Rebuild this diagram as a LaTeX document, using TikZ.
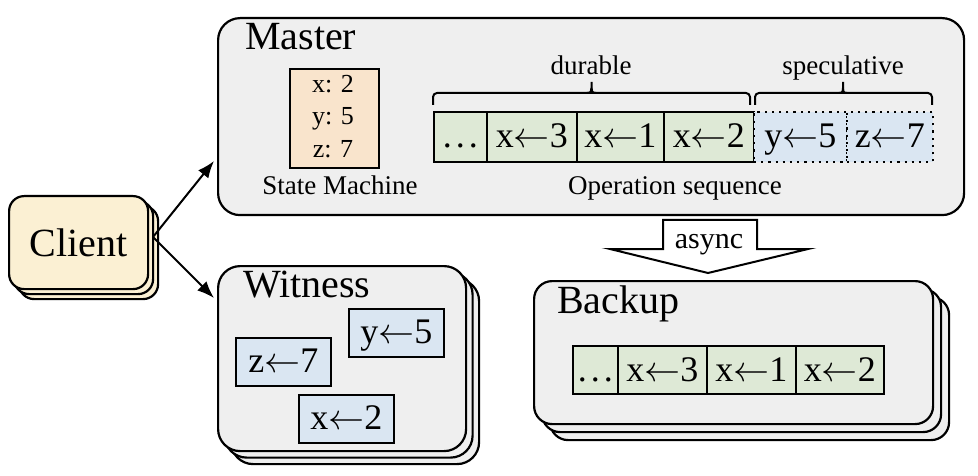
\RequirePackage{fix-cm}
\documentclass[tikz,border=0pt]{standalone}
\usepackage{fontspec}
\setmainfont{Liberation Serif}
\usetikzlibrary{arrows.meta}
\definecolor{boxgray}{HTML}{EFEFEF}
\definecolor{clientfill}{HTML}{FBF0D3}
\definecolor{smfill}{HTML}{F9E4CC}
\definecolor{greenfill}{HTML}{DEE9D6}
\definecolor{bluefill}{HTML}{DAE6F2}
\newcommand{\la}{$\leftarrow$}
\newcommand{\mydots}{.\kern4pt.\kern4pt.}
\begin{document}
\begin{tikzpicture}[x=1pt,y=-1pt,
  bigbox/.style={draw, line width=2.2pt, fill=boxgray, anchor=north west, inner sep=0pt},
  title/.style={anchor=base west, inner sep=0pt, font=\fontsize{40}{40}\selectfont},
  lbl/.style={anchor=base, inner sep=0pt, font=\fontsize{27}{27}\selectfont},
  cell/.style={draw, line width=1.8pt, inner sep=0pt, anchor=north west, text height=26pt, text depth=4pt, font=\fontsize{36}{36}\selectfont},
  gcell/.style={cell, fill=greenfill, minimum height=50pt},
  scell/.style={cell, fill=bluefill, minimum height=50pt, dash pattern=on 2.2pt off 5pt},
  wcell/.style={cell, fill=bluefill, minimum width=95pt, minimum height=48pt, text height=25pt},
  bcell/.style={cell, fill=greenfill, minimum height=48pt, text depth=2pt},
  brc/.style={line width=2pt, rounded corners=4pt},
  conn/.style={line width=2pt, -{Latex[length=17pt,width=13pt]}}
]
\useasboundingbox (0,0) rectangle (978,476);

% Client stack
\node[bigbox, fill=clientfill, rounded corners=15pt, minimum width=139pt, minimum height=93pt] (client3) at (18,205) {};
\node[bigbox, fill=clientfill, rounded corners=15pt, minimum width=139pt, minimum height=93pt] (client2) at (13,200) {};
\node[bigbox, fill=clientfill, rounded corners=15pt, minimum width=139pt, minimum height=93pt, font=\fontsize{40}{40}\selectfont] (client) at (8,195) {Client};

% Master
\node[bigbox, rounded corners=22pt, minimum width=746pt, minimum height=197pt] (master) at (217,17) {};
\node[title] (mtitle) at (245,50) {Master};

% State machine
\node[draw, line width=1.8pt, fill=smfill, anchor=north west, minimum width=89pt, minimum height=99pt] (sm) at (289,68) {};
\node[lbl, font=\fontsize{26}{26}\selectfont] (smx) at (333,93) {x: 2};
\node[lbl, font=\fontsize{26}{26}\selectfont] (smy) at (333,125) {y: 5};
\node[lbl, font=\fontsize{26}{26}\selectfont] (smz) at (333,158) {z: 7};
\node[lbl] (smlbl) at (340,195) {State Machine};

% Operation sequence
\node[gcell, minimum width=53pt] (o1) at (433,111) {\mydots};
\node[gcell, minimum width=90pt] (o2) at (486,111) {x\la3};
\node[gcell, minimum width=87pt] (o3) at (576,111) {x\la1};
\node[gcell, minimum width=90pt] (o4) at (663,111) {x\la2};
\node[scell, minimum width=93pt] (o5) at (753,111) {y\la5};
\node[scell, minimum width=86pt] (o6) at (846,111) {z\la7};
\node[lbl] (oplbl) at (675,195) {Operation sequence};

% braces
\coordinate (dl) at (433,105); \coordinate (dr) at (750,105); \coordinate (dt) at (591.5,82);
\coordinate (sl) at (755,105); \coordinate (sr) at (932,105); \coordinate (st) at (843,82);
\draw[brc] (dl) -- (433,93) -- (750,93) -- (dr);
\draw[line width=2pt] (587,93) .. controls (591,93) and (591.5,91) .. (591.5,88) -- (dt);
\draw[line width=2pt] (596,93) .. controls (592,93) and (591.5,91) .. (591.5,88);
\draw[brc] (sl) -- (755,93) -- (932,93) -- (sr);
\draw[line width=2pt] (839,93) .. controls (843,93) and (843,91) .. (843,88) -- (st);
\draw[line width=2pt] (847,93) .. controls (843,93) and (843,91) .. (843,88);
\node[lbl] (dur) at (591,75) {durable};
\node[lbl] (spec) at (843,75) {speculative};

% Witness stack
\node[bigbox, rounded corners=22pt, minimum width=248pt, minimum height=185pt] (witness3) at (230,278) {};
\node[bigbox, rounded corners=22pt, minimum width=248pt, minimum height=185pt] (witness2) at (223.5,271.5) {};
\node[bigbox, rounded corners=22pt, minimum width=248pt, minimum height=185pt] (witness) at (217,265) {};
\node[title] (wtitle) at (243,297) {Witness};
\node[wcell] (wy) at (348,308) {y\la5};
\node[wcell] (wz) at (235,337) {z\la7};
\node[wcell] (wx) at (298,394) {x\la2};

% Backup stack
\node[bigbox, rounded corners=18pt, minimum width=399pt, minimum height=143pt] (backup3) at (549,296) {};
\node[bigbox, rounded corners=18pt, minimum width=399pt, minimum height=143pt] (backup2) at (541,288) {};
\node[bigbox, rounded corners=18pt, minimum width=399pt, minimum height=143pt] (backup) at (533,280) {};
\node[title] (btitle) at (557,313) {Backup};
\node[bcell, minimum width=45pt] (b1) at (572,345) {\mydots};
\node[bcell, minimum width=89pt] (b2) at (617,345) {x\la3};
\node[bcell, minimum width=89pt] (b3) at (706,345) {x\la1};
\node[bcell, minimum width=88pt] (b4) at (795,345) {x\la2};

% async arrow
\draw[line width=2pt, fill=white, line join=miter]
  (663,220) -- (757,220) -- (757,249) -- (808,249) -- (708,273) -- (610,249) -- (663,249) -- cycle;
\node[anchor=base, inner sep=0pt, font=\fontsize{30}{30}\selectfont] (async) at (709,248) {async};

% connectors
\coordinate (cs) at (153,237);
\coordinate (mt) at (214,161);
\coordinate (wt) at (214,298);
\draw[conn] (cs) -- (mt);
\draw[conn] (cs) -- (wt);
\end{tikzpicture}
\end{document}
